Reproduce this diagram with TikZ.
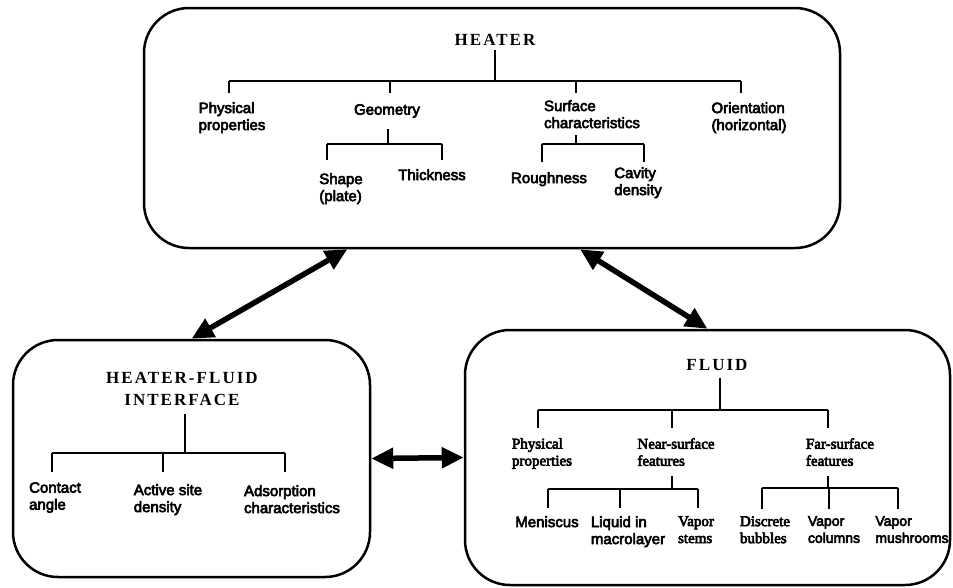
\documentclass[tikz,border=0pt]{standalone}
\usepackage{fontspec}
\setmainfont{Liberation Serif}
\newfontfamily\lblfont[FakeBold=4]{Liberation Sans}
\newfontfamily\serlbl[FakeBold=4]{Liberation Serif}
\newfontfamily\titlefont[LetterSpace=12]{Liberation Serif}
\usetikzlibrary{arrows.meta,calc}
\begin{document}
\begin{tikzpicture}[x=1pt,y=-1pt,
  box/.style={draw, line width=2.5pt, rounded corners=45pt, inner sep=0pt},
  ttl/.style={font=\titlefont\bfseries\fontsize{17}{22}\selectfont, align=center, inner sep=1pt},
  lbl/.style={font=\lblfont\fontsize{15}{17}\selectfont, align=left, anchor=north, inner xsep=1pt, inner ysep=5pt},
  slbl/.style={lbl, font=\serlbl\fontsize{15}{17}\selectfont},
  small/.style={font=\lblfont\fontsize{14}{17}\selectfont},
  tree/.style={line width=2.3pt},
  dbl/.style={line width=5.5pt, {Triangle[length=22pt,width=20pt]}-{Triangle[length=22pt,width=20pt]}}]
\useasboundingbox (0,0) rectangle (953,587);

% ---------- HEATER ----------
\node[box, minimum width=696pt, minimum height=240pt] (heater) at (492,128) {};
\node[ttl, inner ysep=4pt] (ht) at (495,40) {HEATER};
\node[lbl, inner ysep=9pt] (hphys) at (232,93) {Physical\\properties};
\node[lbl, inner ysep=11pt] (hgeom) at (387,93) {Geometry};
\node[lbl, inner ysep=7pt] (hsurf) at (592,93) {Surface\\characteristics};
\node[lbl, inner ysep=9pt] (hor) at (749,93) {Orientation\\(horizontal)};
\coordinate (hb) at (495,81);
\coordinate (hx1) at (229,0);
\coordinate (hx2) at (390,0);
\coordinate (hx3) at (576,0);
\coordinate (hx4) at (741,0);
\draw[tree] (ht.south) -- (ht.south |- hb);
\draw[tree] (hx1 |- hb) -- (hx4 |- hb);
\foreach \c/\n in {hx1/hphys, hx2/hgeom, hx3/hsurf, hx4/hor}
  \draw[tree] (\c |- hb) -- (\n.north -| \c);

% Geometry sub-tree
\node[lbl, inner ysep=13pt] (hshape) at (341,160) {Shape\\(plate)};
\node[lbl, inner ysep=9pt] (hthick) at (432,160) {Thickness};
\coordinate (gb) at (388,144);
\coordinate (gx1) at (327,0);
\coordinate (gx2) at (442,0);
\draw[tree] (hgeom.south -| gb) -- (gb);
\draw[tree] (gx1 |- gb) -- (gx2 |- gb);
\foreach \c/\n in {gx1/hshape, gx2/hthick}
  \draw[tree] (\c |- gb) -- (\n.north -| \c);

% Surface sub-tree
\node[lbl, inner ysep=10pt] (hrough) at (549,162) {Roughness};
\node[lbl, inner ysep=5pt] (hcav) at (638,162) {Cavity\\density};
\coordinate (sb) at (576,144);
\coordinate (sx1) at (542,0);
\coordinate (sx2) at (644,0);
\draw[tree] (hsurf.south -| hx3) -- (sb);
\draw[tree] (sx1 |- sb) -- (sx2 |- sb);
\foreach \c/\n in {sx1/hrough, sx2/hcav}
  \draw[tree] (\c |- sb) -- (\n.north -| \c);

% ---------- INTERFACE ----------
\node[box, minimum width=357pt, minimum height=237pt] (iface) at (191.5,458.5) {};
\node[ttl, outer ysep=7pt] (it) at (182,389) {HEATER-FLUID\\INTERFACE};
\coordinate (ib) at (185,453);
\node[lbl, inner ysep=10pt] (icon) at (55,472) {Contact\\angle};
\node[lbl, inner ysep=12pt] (iact) at (168,472) {Active site\\density};
\node[lbl, inner ysep=13pt] (iads) at (292,472) {Adsorption\\characteristics};
\coordinate (ix1) at (52,0);
\coordinate (ix2) at (163,0);
\coordinate (ix3) at (285,0);
\draw[tree] (it.south -| ib) -- (ib);
\draw[tree] (ix1 |- ib) -- (ix3 |- ib);
\foreach \c/\n in {ix1/icon, ix2/iact, ix3/iads}
  \draw[tree] (\c |- ib) -- (\n.north -| \c);

% ---------- FLUID ----------
\node[box, minimum width=485pt, minimum height=255pt] (fluid) at (707.5,457.5) {};
\node[ttl, outer ysep=6pt] (ft) at (717,365) {FLUID};
\coordinate (fb) at (720,410);
\node[slbl, inner ysep=10pt] (fphys) at (542,428) {Physical\\properties};
\node[slbl, inner ysep=10pt] (fnear) at (676,428) {Near-surface\\features};
\node[slbl, inner ysep=10pt] (ffar) at (840,428) {Far-surface\\features};
\coordinate (fx1) at (538,0);
\coordinate (fx2) at (672,0);
\coordinate (fx3) at (828,0);
\draw[tree] (ft.south -| fb) -- (fb);
\draw[tree] (fx1 |- fb) -- (fx3 |- fb);
\foreach \c/\n in {fx1/fphys, fx2/fnear, fx3/ffar}
  \draw[tree] (\c |- fb) -- (\n.north -| \c);

% Near-surface sub-tree
\coordinate (nb) at (672,489);
\node[lbl, inner ysep=8pt] (fmen) at (547,508) {Meniscus};
\node[lbl, inner ysep=8pt] (fliq) at (628,508) {Liquid in\\macrolayer};
\node[slbl, inner ysep=8pt] (fvst) at (696,508) {Vapor\\stems};
\coordinate (nx1) at (548,0);
\coordinate (nx2) at (620,0);
\coordinate (nx3) at (698,0);
\draw[tree] (fnear.south -| nb) -- (nb);
\draw[tree] (nx1 |- nb) -- (nx3 |- nb);
\foreach \c/\n in {nx1/fmen, nx2/fliq, nx3/fvst}
  \draw[tree] (\c |- nb) -- (\n.north -| \c);

% Far-surface sub-tree
\coordinate (rb) at (828,488);
\node[slbl, inner ysep=7pt] (fdis) at (765,509) {Discrete\\bubbles};
\node[lbl, small, inner ysep=7pt] (fcol) at (834,509) {Vapor\\columns};
\node[lbl, small, inner ysep=7pt] (fmush) at (912,509) {Vapor\\mushrooms};
\coordinate (rx1) at (762,0);
\coordinate (rx2) at (829,0);
\coordinate (rx3) at (898,0);
\draw[tree] (ffar.south -| rb) -- (rb);
\draw[tree] (rx1 |- rb) -- (rx3 |- rb);
\foreach \c/\n in {rx1/fdis, rx2/fcol, rx3/fmush}
  \draw[tree] (\c |- rb) -- (\n.north -| \c);

% ---------- ARROWS ----------
\draw[dbl] ($(heater.south west)!0.293!(heater.south east)$) -- (iface.north);
\draw[dbl] ($(heater.south west)!0.626!(heater.south east)$) -- (fluid.north);
\draw[dbl] (iface.east) -- (fluid.west);
\end{tikzpicture}
\end{document}
